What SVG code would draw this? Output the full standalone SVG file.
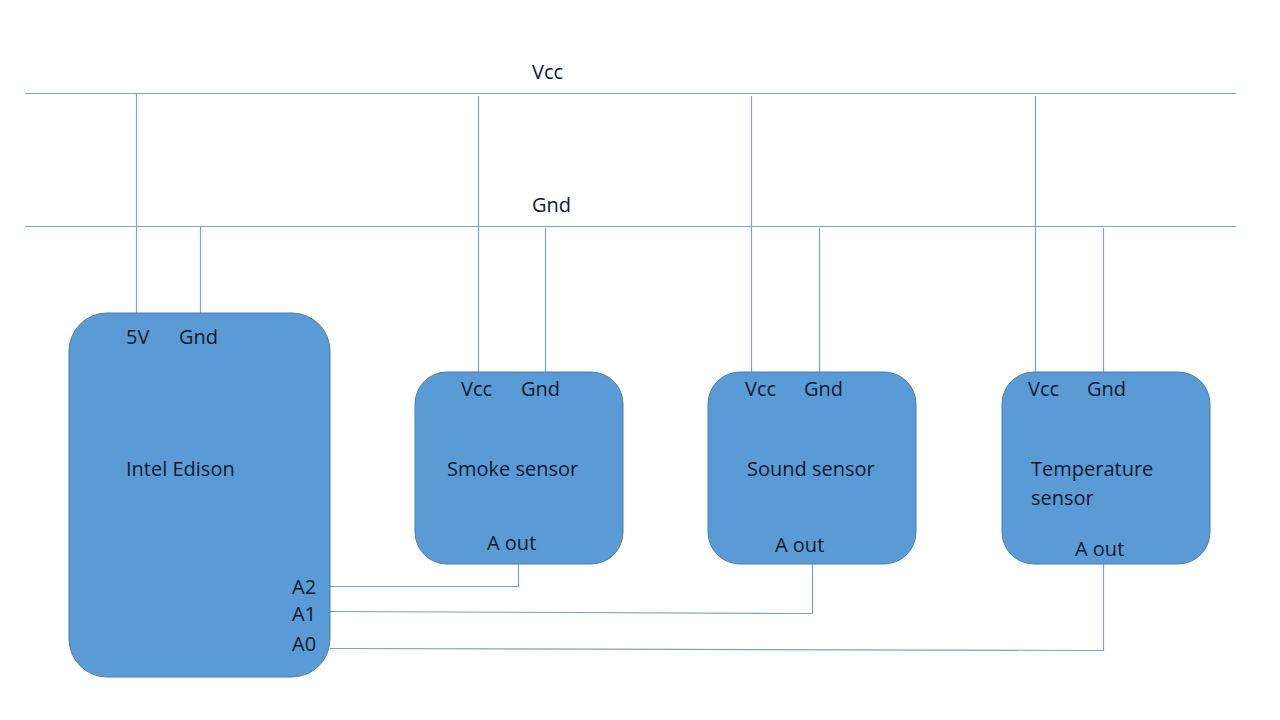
<svg xmlns="http://www.w3.org/2000/svg" width="1280" height="720" viewBox="0 0 1280 720">
<style>
.w{stroke:#7fa3c2;stroke-width:1.2;fill:none}
.box{fill:#5b9bd5;stroke:#4a7fae;stroke-width:1}
text{font-family:"Open Sans",Lato,"Liberation Sans",sans-serif;font-size:20px;fill:#0d1a30}
</style>
<rect width="1280" height="720" fill="#ffffff"/>
<g id="connectors">
<line class="w" x1="25" y1="93.5" x2="1236" y2="93.5"/>
<line class="w" x1="25" y1="226.5" x2="1236" y2="226.5"/>
<line class="w" x1="136.5" y1="93" x2="136.5" y2="313"/>
<line class="w" x1="200.5" y1="226" x2="200.5" y2="313"/>
<line class="w" x1="478.5" y1="96" x2="478.5" y2="372"/>
<line class="w" x1="545.5" y1="228" x2="545.5" y2="372"/>
<line class="w" x1="751.5" y1="96" x2="751.5" y2="372"/>
<line class="w" x1="819.5" y1="228" x2="819.5" y2="372"/>
<line class="w" x1="1035.5" y1="96" x2="1035.5" y2="372"/>
<line class="w" x1="1103.5" y1="228" x2="1103.5" y2="372"/>
<polyline class="w" points="518.5,564 518.5,586.5 330,586.5"/>
<polyline class="w" points="812.5,564 812.5,613.5 330,611.5"/>
<polyline class="w" points="1103.5,564 1103.5,650.5 330,648.5"/>
</g>
<g id="rails">
<text x="532" y="79">Vcc</text>
<text x="532" y="212">Gnd</text>
</g>
<g id="edison">
<rect class="box" x="69" y="313" width="261" height="364" rx="38"/>
<text x="126" y="344">5V</text>
<text x="179" y="344">Gnd</text>
<text x="126" y="476">Intel Edison</text>
<text x="292" y="594">A2</text>
<text x="292" y="621">A1</text>
<text x="292" y="651">A0</text>
</g>
<g id="smoke">
<rect class="box" x="415" y="372" width="208" height="192" rx="32"/>
<text x="461" y="396">Vcc</text>
<text x="521" y="396">Gnd</text>
<text x="447" y="476">Smoke sensor</text>
<text x="487" y="550">A out</text>
</g>
<g id="sound">
<rect class="box" x="708" y="372" width="208" height="192" rx="32"/>
<text x="745" y="396">Vcc</text>
<text x="804" y="396">Gnd</text>
<text x="747" y="476">Sound sensor</text>
<text x="775" y="552">A out</text>
</g>
<g id="temperature">
<rect class="box" x="1002" y="372" width="208" height="192" rx="32"/>
<text x="1028" y="396">Vcc</text>
<text x="1087" y="396">Gnd</text>
<text x="1031" y="476">Temperature</text>
<text x="1031" y="505">sensor</text>
<text x="1075" y="556">A out</text>
</g>
</svg>
